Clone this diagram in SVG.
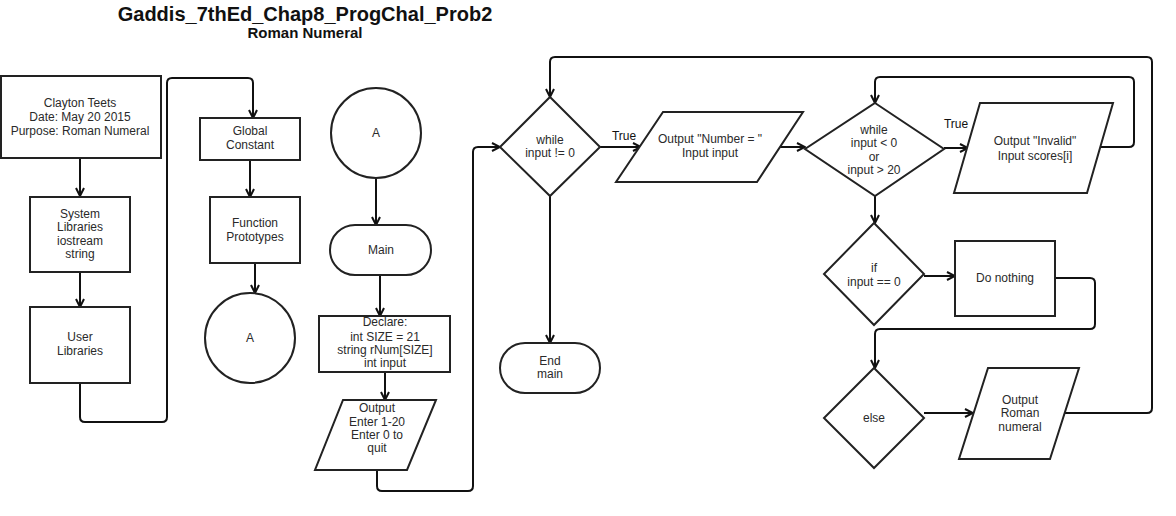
<svg xmlns="http://www.w3.org/2000/svg" width="1176" height="516" viewBox="0 0 1176 516">
<defs>
<marker id="arr" viewBox="0 0 10 10" refX="9" refY="5" markerWidth="10" markerHeight="10" markerUnits="userSpaceOnUse" orient="auto">
<path d="M1,1 L9,5 L1,9" fill="none" stroke="#111" stroke-width="2"/>
</marker>
<style>
.s{fill:#fff;stroke:#222;stroke-width:2}
.c{fill:none;stroke:#111;stroke-width:2;marker-end:url(#arr)}
.n{fill:none;stroke:#111;stroke-width:2}
text{font-family:"Liberation Sans",Arial,sans-serif;font-size:12px;fill:#2a2a2a;text-anchor:middle}
.t{font-weight:bold;fill:#111}
.l{fill:#111}
</style>
</defs>
<rect width="1176" height="516" fill="#fff"/>
<text class="t" x="305" y="21" style="font-size:20px">Gaddis_7thEd_Chap8_ProgChal_Prob2</text>
<text class="t" x="305" y="38" style="font-size:15px">Roman Numeral</text>

<g id="connectors">
<path class="c" d="M80,158 V196"/>
<path class="c" d="M80,272 V307"/>
<path class="c" d="M80,383 V417 Q80,422 85,422 H162 Q167,422 167,417 V83 Q167,78 172,78 H248 Q253,78 253,83 V118"/>
<path class="c" d="M250,160 V197"/>
<path class="c" d="M255,263 V293"/>
<path class="c" d="M376,178 V225"/>
<path class="c" d="M380,275 V316"/>
<path class="c" d="M385,372 V400"/>
<path class="c" d="M377,470 V486 Q377,491 382,491 H468 Q473,491 473,486 V152 Q473,147 478,147 H500"/>
<path class="c" d="M600,147 H641"/>
<path class="c" d="M780,147 H805"/>
<path class="c" d="M944,148 H968"/>
<path class="c" d="M1100,147 H1129 Q1134,147 1134,142 V82 Q1134,77 1129,77 H880 Q875,77 875,82 V103"/>
<path class="c" d="M875,196 V223"/>
<path class="c" d="M924,276 H955"/>
<path class="c" d="M1055,278 H1090 Q1095,278 1095,283 V324 Q1095,329 1090,329 H880 Q875,329 875,334 V368"/>
<path class="c" d="M924,413 H973"/>
<path class="c" d="M1065,413 H1147 Q1152,413 1152,408 V62 Q1152,57 1147,57 H555 Q550,57 550,62 V97"/>
<path class="c" d="M550,196 V343"/>
<text class="l" x="624" y="140">True</text>
<text class="l" x="956" y="128">True</text>
</g>

<g id="header">
<rect class="s" x="1" y="76" width="160" height="82"/>
<text x="80" y="107">Clayton Teets</text>
<text x="80" y="121">Date: May 20 2015</text>
<text x="80" y="135">Purpose: Roman Numeral</text>
</g>
<g id="syslib">
<rect class="s" x="30" y="197" width="100" height="75"/>
<text x="80" y="218">System</text>
<text x="80" y="231">Libraries</text>
<text x="80" y="245">iostream</text>
<text x="80" y="258">string</text>
</g>
<g id="userlib">
<rect class="s" x="30" y="307" width="100" height="76"/>
<text x="80" y="341">User</text>
<text x="80" y="355">Libraries</text>
</g>
<g id="global">
<rect class="s" x="200" y="118" width="100" height="42"/>
<text x="250" y="135">Global</text>
<text x="250" y="149">Constant</text>
</g>
<g id="protos">
<rect class="s" x="210" y="197" width="90" height="66"/>
<text x="255" y="227">Function</text>
<text x="255" y="241">Prototypes</text>
</g>
<g id="connA1">
<circle class="s" cx="250" cy="338" r="45"/>
<text x="250" y="342">A</text>
</g>
<g id="connA2">
<circle class="s" cx="376" cy="133" r="45"/>
<text x="376" y="137">A</text>
</g>
<g id="main">
<rect class="s" x="330" y="225" width="101" height="50" rx="25" ry="25"/>
<text x="381" y="254">Main</text>
</g>
<g id="declare">
<rect class="s" x="319" y="316" width="131" height="56"/>
<text x="385" y="326">Declare:</text>
<text x="385" y="341">int SIZE = 21</text>
<text x="385" y="354">string rNum[SIZE]</text>
<text x="385" y="367">int input</text>
</g>
<g id="outEnter">
<polygon class="s" points="343,400 436,400 407,470 315,470"/>
<text x="377" y="412">Output</text>
<text x="377" y="426">Enter 1-20</text>
<text x="377" y="439">Enter 0 to</text>
<text x="377" y="452">quit</text>
</g>
<g id="while1">
<polygon class="s" points="550,97 600,147 550,196 500,147"/>
<text x="550" y="144">while</text>
<text x="550" y="157">input != 0</text>
</g>
<g id="endmain">
<rect class="s" x="500" y="343" width="100" height="50" rx="25" ry="25"/>
<text x="550" y="365">End</text>
<text x="550" y="378">main</text>
</g>
<g id="outNumber">
<polygon class="s" points="663,112 803,112 757,182 616,182"/>
<text x="710" y="143">Output "Number = "</text>
<text x="710" y="157">Input input</text>
</g>
<g id="while2">
<polygon class="s" points="875,103 944,149 875,196 805,149"/>
<text x="874" y="134">while</text>
<text x="874" y="147">input &lt; 0</text>
<text x="874" y="161">or</text>
<text x="874" y="174">input &gt; 20</text>
</g>
<g id="outInvalid">
<polygon class="s" points="980,103 1113,103 1087,193 954,193"/>
<text x="1035" y="145">Output "Invalid"</text>
<text x="1035" y="160">Input scores[i]</text>
</g>
<g id="ifnode">
<polygon class="s" points="874,223 924,274 874,325 824,274"/>
<text x="874" y="272">if</text>
<text x="874" y="286">input == 0</text>
</g>
<g id="donothing">
<rect class="s" x="955" y="241" width="100" height="75"/>
<text x="1005" y="282">Do nothing</text>
</g>
<g id="elsenode">
<polygon class="s" points="874,368 924,418 874,468 824,418"/>
<text x="874" y="422">else</text>
</g>
<g id="outRoman">
<polygon class="s" points="988,368 1079,368 1050,459 959,459"/>
<text x="1020" y="404">Output</text>
<text x="1020" y="417">Roman</text>
<text x="1020" y="431">numeral</text>
</g>
</svg>
